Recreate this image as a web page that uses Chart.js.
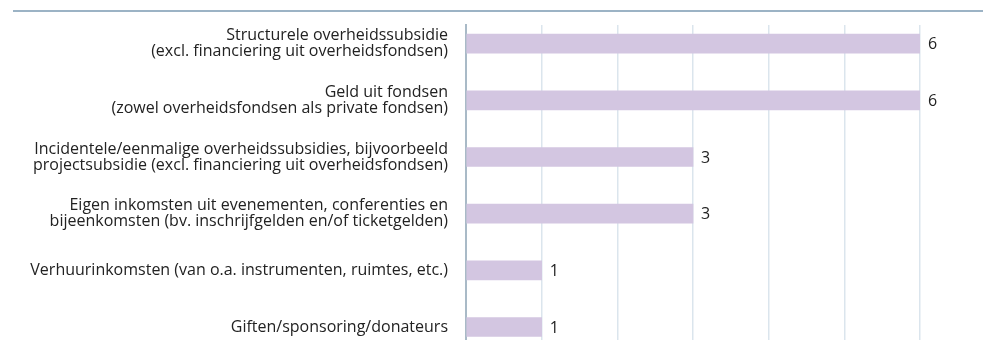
<!DOCTYPE html>
<html lang="nl">
<head>
<meta charset="utf-8">
<title>Inkomstenbronnen</title>
<script src="https://cdn.jsdelivr.net/npm/chart.js@4"></script>
<style>
  html, body { margin: 0; padding: 0; background: #fff; }
  .wrap { position: relative; width: 983px; height: 340px; overflow: hidden; }
  .topline { position: absolute; left: 13px; right: 0; top: 10px; height: 2px; background: #9cb3c5; }
</style>
</head>
<body>
<div class="wrap">
  <div class="topline"></div>
  <canvas id="barChart"></canvas>
</div>
<script>
const categories = [
  ['Structurele overheidssubsidie', '(excl. financiering uit overheidsfondsen)'],
  ['Geld uit fondsen', '(zowel overheidsfondsen als private fondsen)'],
  ['Incidentele/eenmalige overheidssubsidies, bijvoorbeeld', 'projectsubsidie (excl. financiering uit overheidsfondsen)'],
  ['Eigen inkomsten uit evenementen, conferenties en', 'bijeenkomsten (bv. inschrijfgelden en/of ticketgelden)'],
  'Verhuurinkomsten (van o.a. instrumenten, ruimtes, etc.)',
  'Giften/sponsoring/donateurs'
];
const counts = [6, 6, 3, 3, 1, 1];
const xTicks = [0, 1, 2, 3, 4, 5, 6];

const FONT = '"Open Sans", Roboto, sans-serif';

// number next to the end of each bar
const valueLabels = {
  id: 'valueLabels',
  afterDatasetsDraw(chart) {
    const ctx = chart.ctx;
    const meta = chart.getDatasetMeta(0);
    ctx.save();
    ctx.font = '16px ' + FONT;
    ctx.fillStyle = '#222';
    ctx.textAlign = 'left';
    ctx.textBaseline = 'middle';
    meta.data.forEach((bar, i) => {
      ctx.fillText(String(counts[i]), bar.x + 8, bar.y + 1);
    });
    ctx.restore();
  }
};

const bar_data = {
  datasets: [{
    data: counts.map((v, i) => ({ x: v, y: i })),
    backgroundColor: '#d3c6e1',
    borderWidth: 0,
    barThickness: 19
  }]
};

const bar_config = {
  type: 'bar',
  data: bar_data,
  options: {
    indexAxis: 'y',
    responsive: true,
    maintainAspectRatio: false,
    animation: false,
    layout: { padding: { top: 25, right: 63, bottom: 0, left: 0 } },
    plugins: { legend: { display: false }, tooltip: { enabled: false } },
    scales: {
      x: {
        type: 'linear',
        min: 0,
        max: 6,
        afterBuildTicks: scale => { scale.ticks = xTicks.map(v => ({ value: v })); },
        afterFit: scale => { scale.height = 0; },
        ticks: { display: false },
        border: { display: false },
        grid: { color: '#dbe5ed', lineWidth: 1.5, drawTicks: false }
      },
      y: {
        type: 'linear',
        reverse: true,
        offset: false,
        min: -0.33,
        max: 5.23,
        afterBuildTicks: scale => { scale.ticks = categories.map((c, i) => ({ value: i })); },
        afterFit: scale => {
          // labels sit well inside the axis, no extra room needed above/below
          scale.width = 466;
          scale.paddingTop = 0;
          scale.paddingBottom = 0;
        },
        ticks: {
          padding: 10,
          color: '#222',
          font: { family: FONT, size: 16, lineHeight: 1.0 },
          callback: v => categories[v]
        },
        grid: { display: false },
        border: { display: true, color: '#a9bac7', width: 2 }
      }
    }
  },
  plugins: [valueLabels]
};

const barChart = new Chart(document.getElementById('barChart'), bar_config);
</script>
</body>
</html>
